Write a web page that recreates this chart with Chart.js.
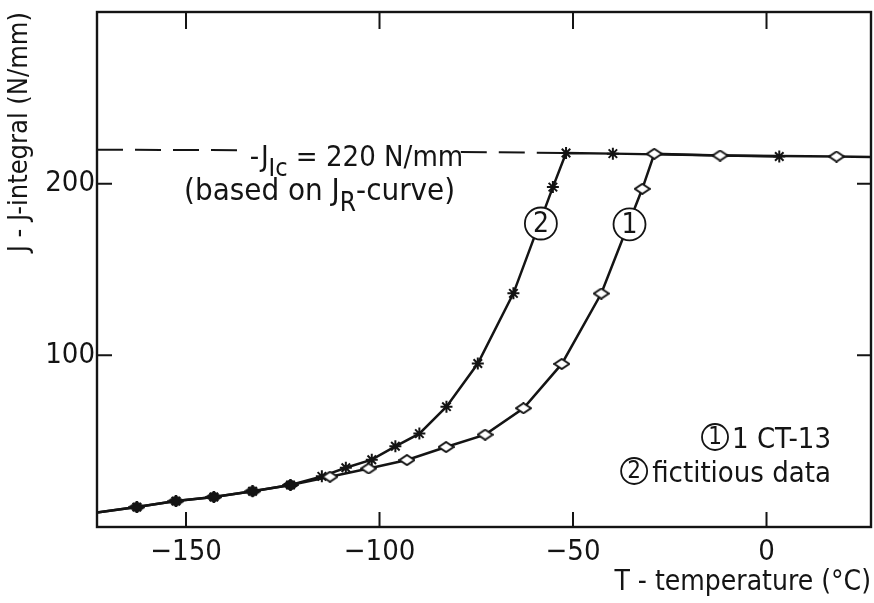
<!DOCTYPE html>
<html>
<head>
<meta charset="UTF-8">
<title>J-integral vs temperature</title>
<script src="https://cdn.jsdelivr.net/npm/chart.js"></script>
<style>
  html, body { margin: 0; padding: 0; background: #fff; overflow: hidden; }
  #wrap { width: 874px; height: 603px; }
</style>
</head>
<body>
<div id="wrap"><canvas id="chart" width="874" height="603"></canvas></div>
<script>
const FONT = '"DejaVu Sans Condensed", "Liberation Sans Narrow", "DejaVu Sans", sans-serif';
const INK = '#141414';

// curve 1 : 1CT-13  (temperature in degC, J in N/mm)
const ct13Temp = [-173, -162.7, -152.6, -142.8, -132.8, -123.0, -112.8, -102.8, -92.9, -82.8, -72.7, -62.8, -52.9, -42.7, -32.1, -29.0, -12.0, 18.1, 27];
const ct13J    = [8.5, 11.6, 15.1, 17.5, 20.8, 24.5, 29.3, 34.1, 39.0, 46.6, 53.8, 69.2, 95.0, 136.0, 197.0, 217.4, 216.4, 215.8, 215.5];
const ct13Mark = [0, 2, 2, 2, 2, 2, 1, 1, 1, 1, 1, 1, 1, 1, 1, 1, 1, 1, 0]; // 0 none, 1 open, 2 shared (filled)

// curve 2 : fictitious data
const fictTemp = [-173, -162.7, -152.6, -142.8, -132.8, -123.0, -114.9, -108.7, -102.0, -95.9, -89.7, -82.7, -74.6, -65.4, -55.2, -51.8, -39.7, 3.3];
const fictJ    = [8.5, 11.6, 15.1, 17.5, 20.8, 24.5, 29.5, 34.5, 39.2, 47.0, 54.4, 70.1, 95.2, 136.1, 198.0, 217.9, 217.5, 215.8];
const fictMark = [0, 1, 1, 1, 1, 1, 1, 1, 1, 1, 1, 1, 1, 1, 1, 1, 1, 1];

// J_Ic = 220 N/mm dashed level (broken where the label sits)
const jicTemp = [-173, -134, null, -79, -51.8];
const jicJ    = [219.8, 219.5, null, 218.5, 217.9];

const xTicks = [-150, -100, -50, 0];
const yTicks = [100, 200];

// small marker images
function diamond(fill) {
  const c = document.createElement('canvas');
  c.width = 17; c.height = 12;
  const g = c.getContext('2d');
  g.beginPath();
  g.moveTo(8.5, 1); g.lineTo(16, 6); g.lineTo(8.5, 11); g.lineTo(1, 6); g.closePath();
  g.fillStyle = fill; g.fill();
  g.lineWidth = 2; g.strokeStyle = INK; g.stroke();
  return c;
}
const openDia = diamond('#fff');
const fullDia = diamond(INK);

const toPts = (xs, ys) => xs.map((x, i) => ({ x: x, y: x === null ? null : ys[i] }));

const frame = {
  id: 'frame',
  afterDatasetsDraw(chart) {
    const { ctx, chartArea: a, scales: { x, y } } = chart;
    ctx.save();
    ctx.strokeStyle = INK;
    ctx.lineWidth = 2.4;
    ctx.strokeRect(a.left, a.top, a.right - a.left, a.bottom - a.top);
    // inward tick marks on all four sides
    ctx.lineWidth = 2;
    ctx.beginPath();
    xTicks.forEach(v => {
      const p = x.getPixelForValue(v);
      ctx.moveTo(p, a.bottom); ctx.lineTo(p, a.bottom - 15);
      ctx.moveTo(p, a.top); ctx.lineTo(p, a.top + 17);
    });
    yTicks.forEach(v => {
      const p = y.getPixelForValue(v);
      ctx.moveTo(a.left, p); ctx.lineTo(a.left + 15, p);
      ctx.moveTo(a.right, p); ctx.lineTo(a.right - 14, p);
    });
    ctx.stroke();

    ctx.fillStyle = INK;
    ctx.textBaseline = 'alphabetic';
    const seq = (parts, x0, y0) => {
      let cx = x0;
      parts.forEach(([t, size, dy]) => {
        ctx.font = size + 'px ' + FONT;
        ctx.fillText(t, cx, y0 + dy);
        cx += ctx.measureText(t).width;
      });
    };
    // J_Ic label
    ctx.textAlign = 'left';
    seq([['-J', 29, 0], ['I', 25, 10], ['c', 25, 10], [' = 220 N/mm', 29, 0]],
        x.getPixelForValue(-133.5), y.getPixelForValue(210.5));
    seq([['(based on J', 31, 0], ['R', 26, 11], ['-curve)', 31, 0]],
        x.getPixelForValue(-150.5), y.getPixelForValue(190.5));

    const circled = (d, cx, cy, r, size) => {
      ctx.beginPath();
      ctx.arc(cx, cy, r, 0, Math.PI * 2);
      ctx.fillStyle = '#fff'; ctx.fill();
      ctx.lineWidth = 1.8; ctx.strokeStyle = INK; ctx.stroke();
      ctx.fillStyle = INK;
      ctx.font = size + 'px ' + FONT;
      ctx.textAlign = 'center'; ctx.textBaseline = 'middle';
      ctx.fillText(d, cx, cy + 1);
      ctx.textBaseline = 'alphabetic';
    };
    // curve tags
    circled('2', x.getPixelForValue(-58.3), y.getPixelForValue(176.8), 16, 28);
    circled('1', x.getPixelForValue(-35.4), y.getPixelForValue(176.3), 16, 28);

    // key, bottom right
    ctx.font = '29px ' + FONT;
    ctx.textAlign = 'right';
    const kx = a.right - 40;
    const k1 = '1 CT-13', k2 = 'fictitious data';
    ctx.fillText(k1, kx, 448);
    ctx.fillText(k2, kx, 482);
    const w1 = ctx.measureText(k1).width, w2 = ctx.measureText(k2).width;
    circled('1', kx - w1 - 17, 437, 13, 24);
    ctx.font = '29px ' + FONT; ctx.textAlign = 'right';
    circled('2', kx - w2 - 18, 471, 13, 24);
    ctx.restore();
  }
};

new Chart(document.getElementById('chart'), {
  type: 'line',
  data: {
    datasets: [
      {
        label: '1CT-13',
        data: toPts(ct13Temp, ct13J),
        borderColor: INK, borderWidth: 2.5, tension: 0,
        pointStyle: ct13Mark.map(m => m === 2 ? fullDia : openDia),
        pointRadius: ct13Mark.map(m => m ? 6 : 0),
        order: 1
      },
      {
        label: 'fictitious data',
        data: toPts(fictTemp, fictJ),
        borderColor: INK, borderWidth: 2.5, tension: 0,
        pointStyle: 'star',
        pointBorderColor: INK, pointBorderWidth: 2,
        pointRadius: fictMark.map(m => m ? 6 : 0),
        order: 2
      },
      {
        label: 'JIc',
        data: toPts(jicTemp, jicJ),
        borderColor: INK, borderWidth: 2, borderDash: [26, 12],
        pointRadius: 0, spanGaps: false,
        order: 3
      }
    ]
  },
  options: {
    responsive: false,
    animation: false,
    layout: { autoPadding: false, padding: { top: 12, right: 3, left: 0, bottom: 0 } },
    plugins: { legend: { display: false }, tooltip: { enabled: false } },
    scales: {
      x: {
        type: 'linear', min: -173, max: 27,
        grid: { display: false, drawTicks: false }, border: { display: false },
        afterBuildTicks: s => { s.ticks = xTicks.map(v => ({ value: v })); },
        afterFit: s => { s.height = 76; s.paddingLeft = 0; s.paddingRight = 0; },
        ticks: {
          color: INK, padding: 8, maxRotation: 0, autoSkip: false,
          font: { family: FONT, size: 29 },
          callback: v => v < 0 ? '\u2212' + Math.abs(v) : String(v)
        },
        title: {
          display: true, text: 'T - temperature (\u00B0C)', align: 'end', color: INK,
          font: { family: FONT, size: 28 }, padding: { top: 0, bottom: 3 }
        }
      },
      y: {
        type: 'linear', min: 0, max: 300,
        grid: { display: false, drawTicks: false }, border: { display: false },
        afterBuildTicks: s => { s.ticks = yTicks.map(v => ({ value: v })); },
        afterFit: s => { s.width = 97; s.paddingTop = 0; s.paddingBottom = 0; },
        ticks: { color: INK, padding: 2, autoSkip: false, font: { family: FONT, size: 29 } },
        title: {
          display: true, text: 'J - J-integral (N/mm)', align: 'end', color: INK,
          font: { family: FONT, size: 27 }, padding: { top: 4, bottom: 0 }
        }
      }
    }
  },
  plugins: [frame]
});
</script>
</body>
</html>
